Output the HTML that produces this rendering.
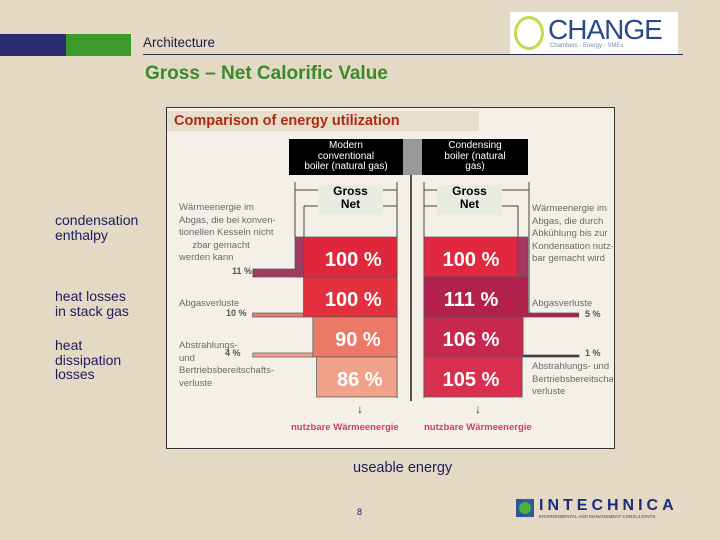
<!DOCTYPE html>
<html><head><meta charset="utf-8">
<style>
body{margin:0;width:720px;height:540px;overflow:hidden;background:#e4d9c4;font-family:"Liberation Sans",sans-serif;position:relative}
.a{position:absolute}
.lbl{position:absolute;left:55px;font-size:14px;color:#1c1c5c;line-height:14.5px}
.g{font-size:9.5px;color:#6a6a6a;line-height:12.5px;position:absolute}
.gr{width:81px;overflow:hidden;white-space:nowrap}
</style></head><body>
<div class="a" style="left:0;top:34px;width:66px;height:22px;background:#2a2e70"></div>
<div class="a" style="left:66px;top:34px;width:65px;height:22px;background:#3c9a2c"></div>
<div class="a" style="left:143px;top:35px;font-size:13.5px;color:#1c1c4c">Architecture</div>
<div class="a" style="left:143px;top:54px;width:540px;height:1px;background:#2a2e50"></div>
<div class="a" style="left:145px;top:63px;font-size:19px;font-weight:bold;color:#3a8a2a">Gross – Net Calorific Value</div>
<div class="a" style="left:510px;top:12px;width:168px;height:42px;background:#fff">
 <div class="a" style="left:4px;top:4px;width:30px;height:34px;border-radius:50%;border:3px solid #c8d84a;box-sizing:border-box"></div>
 <div class="a" style="left:38px;top:2px;font-size:28px;color:#2a4a8a;letter-spacing:-1px">CHANGE</div>
 <div class="a" style="left:40px;top:31px;font-size:6px;color:#7a8aaa">Chambers - Energy - SMEs</div>
</div>

<div class="a" style="left:166px;top:107px;width:447px;height:340px;background:#f4f0e8;border:1px solid #333"></div>
<div class="a" style="left:167px;top:111px;width:312px;height:20px;background:#e6ddcd;color:#b02a10;font-size:14.5px;font-weight:bold;padding-left:7px;box-sizing:border-box;line-height:20px">Comparison of energy utilization</div>
<div class="a" style="left:410px;top:143px;width:2px;height:258px;background:#555"></div>
<div class="a" style="left:403px;top:139px;width:19px;height:36px;background:#999"></div>
<div class="a" style="left:289px;top:139px;width:114px;height:36px;background:#000;color:#fff;font-size:10px;text-align:center;line-height:10.5px;padding-top:2px;box-sizing:border-box">Modern<br>conventional<br>boiler (natural gas)</div>
<div class="a" style="left:422px;top:139px;width:106px;height:36px;background:#000;color:#fff;font-size:10px;text-align:center;line-height:10.5px;padding-top:2px;box-sizing:border-box">Condensing<br>boiler (natural<br>gas)</div>

<svg class="a" style="left:0;top:0" width="720" height="540">
 <g stroke="#444" stroke-width="1" fill="none">
  <path d="M295 182V237M397 182V398M295 190H318M383 190H397M304 206H318M383 206H397M304 206V237"/>
  <path d="M424 182V398M529 182V317M424 190H437M502 190H529M424 206H437M502 206H518V237"/>
 </g>
 <g id="bars"></g>
</svg>
<div class="a" style="left:318px;top:185px;width:65px;height:30px;background:#e8ebe0;font-size:12px;font-weight:bold;text-align:center;line-height:13px">Gross<br>Net</div>
<div class="a" style="left:437px;top:185px;width:65px;height:30px;background:#e8ebe0;font-size:12px;font-weight:bold;text-align:center;line-height:13px">Gross<br>Net</div>

<div class="g" style="left:179px;top:202px">Wärmeenergie im<br>Abgas, die bei konven-<br>tionellen Kesseln nicht<br>&nbsp;&nbsp;&nbsp;&nbsp;&nbsp;zbar gemacht<br>werden kann</div>
<div class="g" style="left:179px;top:298px">Abgasverluste</div>
<div class="g" style="left:179px;top:340px">Abstrahlungs-<br>und<br>Bertriebsbereitschafts-<br>verluste</div>
<div class="g gr" style="left:532px;top:203px">Wärmeenergie im<br>Abgas, die durch<br>Abkühlung bis zur<br>Kondensation nutz-<br>bar gemacht wird</div>
<div class="g gr" style="left:532px;top:298px">Abgasverluste</div>
<div class="g gr" style="left:532px;top:361px">Abstrahlungs- und<br>Bertriebsbereitschafts-<br>verluste</div>
<div class="a" style="left:232px;top:266px;font-size:9px;font-weight:bold;color:#555">11 %</div>
<div class="a" style="left:226px;top:308px;font-size:9px;font-weight:bold;color:#555">10 %</div>
<div class="a" style="left:225px;top:348px;font-size:9px;font-weight:bold;color:#555">4 %</div>
<div class="a" style="left:585px;top:309px;font-size:9px;font-weight:bold;color:#555">5 %</div>
<div class="a" style="left:585px;top:348px;font-size:9px;font-weight:bold;color:#555">1 %</div>
<div class="a" style="left:291px;top:422px;font-size:9.5px;font-weight:bold;color:#d04060">nutzbare Wärmeenergie</div>
<div class="a" style="left:424px;top:422px;font-size:9.5px;font-weight:bold;color:#d04060">nutzbare Wärmeenergie</div>
<div class="a" style="left:357px;top:402px;font-size:12px;color:#333">↓</div>
<div class="a" style="left:475px;top:402px;font-size:12px;color:#333">↓</div>

<div class="lbl" style="top:213px">condensation<br>enthalpy</div>
<div class="lbl" style="top:289px">heat losses<br>in stack gas</div>
<div class="lbl" style="top:338px">heat<br>dissipation<br>losses</div>
<div class="a" style="left:353px;top:460px;font-size:14.5px;color:#1c1c5c">useable energy</div>
<div class="a" style="left:357px;top:507px;font-size:9px;color:#1c1c5c">8</div>
<div class="a" style="left:516px;top:497px;width:172px;height:24px">
 <div class="a" style="left:0;top:2px;width:18px;height:18px;background:#2a5a9a"><div class="a" style="left:3px;top:3px;width:12px;height:12px;border-radius:50%;background:#4ab03a"></div></div>
 <div class="a" style="left:23px;top:0;font-size:16px;font-weight:bold;color:#1c2c7c;letter-spacing:4px">INTECHNICA</div>
 <div class="a" style="left:23px;top:17px;font-size:4.5px;color:#445">ENVIRONMENTAL AND MANAGEMENT CONSULTANTS</div>
</div>

<script>
const rows=["row1","row2","row3","row4"];
const conventional=[100,100,90,86];
const condensing=[100,111,106,105];
const lossesLeft=[11,10,4];
const lossesRight=[11,5,1];
const colorsLeft=["#e0263a","#e2303e","#ec7866","#f1a28a"];
const colorsRight=["#e2283e","#b2204e","#c8284e","#d8304e"];
const scale=0.935, rowH=40, top0=237, leftEdge=397, rightEdge=424;
const ns="http://www.w3.org/2000/svg", g=document.getElementById("bars");
function y(i){return top0+i*rowH;}
function rect(x,yy,w,h,f,name){const r=document.createElementNS(ns,"rect");r.setAttribute("x",x);r.setAttribute("y",yy);r.setAttribute("width",w);r.setAttribute("height",h);r.setAttribute("fill",f);r.setAttribute("stroke","#555");r.setAttribute("stroke-width","0.7");


g.appendChild(r);return r;}
function txt(x,yy,s,name){const t=document.createElementNS(ns,"text");t.setAttribute("x",x);t.setAttribute("y",yy);t.setAttribute("fill","#fff");t.setAttribute("font-size","20");t.setAttribute("font-weight","bold");t.setAttribute("text-anchor","middle");t.setAttribute("font-family","Liberation Sans, sans-serif");t.textContent=s;


g.appendChild(t);}
rect(295,y(0),9,rowH,"#a23a62","loss-strip-left-1");
rect(leftEdge-conventional[0]*scale-lossesLeft[0]*4.6,y(1)-8,lossesLeft[0]*4.6,8,"#a23a62","loss-bar-left-1");
rect(leftEdge-conventional[1]*scale-lossesLeft[1]*5.1,y(2)-4,lossesLeft[1]*5.1,4,"#e8806e","loss-bar-left-2");
rect(leftEdge-conventional[2]*scale-lossesLeft[2]*15,y(3)-4,lossesLeft[2]*15,4,"#f1a28a","loss-bar-left-3");
rect(rightEdge+condensing[0]*scale,y(0),condensing[1]*scale-condensing[0]*scale,rowH,"#a23a62","gain-strip-right");
rect(rightEdge+condensing[1]*scale,y(2)-4,lossesRight[1]*10.2,4,"#b2204e","loss-bar-right-2");
rect(rightEdge+condensing[2]*scale,y(3)-2,56,2,"#333","loss-bar-right-3");
rows.forEach((r,i)=>{
 const wl=conventional[i]*scale;
 rect(leftEdge-wl,y(i),wl,rowH,colorsLeft[i],"bar-conventional-"+r);
 txt(leftEdge-wl/2+3,y(i)+29,conventional[i]+" %","value-conventional-"+r);
 const wr=condensing[i]*scale;
 rect(rightEdge,y(i),wr,rowH,colorsRight[i],"bar-condensing-"+r);
 txt(rightEdge+47,y(i)+29,condensing[i]+" %","value-condensing-"+r);
});
</script>
</body></html>
